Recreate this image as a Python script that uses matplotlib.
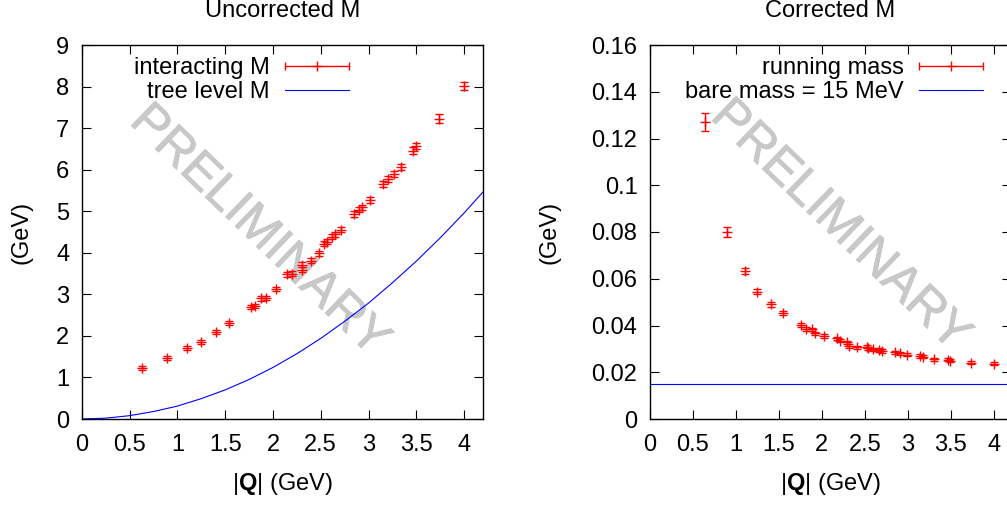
import matplotlib
matplotlib.use('Agg')
import matplotlib.pyplot as plt
import matplotlib.patheffects as pe
from matplotlib.container import ErrorbarContainer
from matplotlib.legend_handler import HandlerErrorbar
import numpy as np

plt.rcParams['font.family'] = ['Liberation Sans', 'DejaVu Sans']
plt.rcParams['mathtext.fontset'] = 'custom'
plt.rcParams['mathtext.rm'] = 'Liberation Sans'
plt.rcParams['mathtext.bf'] = 'Liberation Sans:bold'

# values
# left panel: uncorrected M (GeV) vs |Q| (GeV)
q_unc = [0.63, 0.89, 1.10, 1.25, 1.40, 1.54, 1.77, 1.81, 1.88, 1.93, 2.03,
         2.15, 2.20, 2.30, 2.30, 2.40, 2.48, 2.53, 2.57, 2.62, 2.65, 2.71,
         2.85, 2.90, 2.93, 3.01, 3.15, 3.20, 3.27, 3.34, 3.46, 3.50, 3.74, 4.00]
m_unc = [1.22, 1.46, 1.70, 1.86, 2.09, 2.32, 2.70, 2.71, 2.90, 2.91, 3.13,
         3.48, 3.50, 3.59, 3.71, 3.81, 3.99, 4.22, 4.27, 4.39, 4.45, 4.55,
         4.93, 5.04, 5.09, 5.27, 5.66, 5.77, 5.89, 6.07, 6.46, 6.57, 7.23, 8.01]
m_unc_err = [0.05, 0.05, 0.05, 0.05, 0.05, 0.05, 0.05, 0.05, 0.05, 0.05, 0.05,
             0.06, 0.06, 0.06, 0.06, 0.06, 0.06, 0.06, 0.06, 0.06, 0.06, 0.06,
             0.07, 0.07, 0.07, 0.07, 0.07, 0.07, 0.07, 0.07, 0.08, 0.08, 0.10, 0.09]

# tree level curve, read at a set of |Q| values
q_tree = [0.0, 0.25, 0.5, 0.75, 1.0, 1.25, 1.5, 1.75, 2.0, 2.25, 2.5,
          2.75, 3.0, 3.25, 3.5, 3.75, 4.0, 4.2]
m_tree = [0.0, 0.02, 0.08, 0.18, 0.31, 0.49, 0.70, 0.95, 1.24, 1.57, 1.94,
          2.35, 2.79, 3.28, 3.80, 4.36, 4.96, 5.47]

# right panel: corrected (running) mass
q_cor = [0.64, 0.90, 1.11, 1.25, 1.41, 1.55, 1.76, 1.81, 1.88, 1.92, 2.02,
         2.17, 2.21, 2.29, 2.31, 2.41, 2.52, 2.54, 2.60, 2.66, 2.70, 2.85,
         2.91, 2.99, 3.14, 3.18, 3.30, 3.47, 3.49, 3.73, 4.00]
m_cor = [0.1270, 0.0800, 0.0634, 0.0545, 0.0490, 0.0452, 0.0402, 0.0384,
         0.0384, 0.0366, 0.0355, 0.0345, 0.0335, 0.0328, 0.0312, 0.0307,
         0.0309, 0.0303, 0.0298, 0.0295, 0.0291, 0.0285, 0.0281, 0.0275,
         0.0270, 0.0267, 0.0256, 0.0253, 0.0250, 0.0241, 0.0236]
m_cor_err = [0.0039, 0.0023, 0.0013, 0.0011, 0.0009, 0.0008, 0.0008, 0.0008,
             0.0007, 0.0007, 0.0007, 0.0007, 0.0007, 0.0007, 0.0007, 0.0007,
             0.0007, 0.0007, 0.0007, 0.0007, 0.0007, 0.0007, 0.0007, 0.0007,
             0.0007, 0.0007, 0.0007, 0.0007, 0.0007, 0.0007, 0.0007]
bare_mass = 0.015

x_ticks = [0, 0.5, 1, 1.5, 2, 2.5, 3, 3.5, 4]
x_tick_labels = ['0', '0.5', '1', '1.5', '2', '2.5', '3', '3.5', '4']
left_y_ticks = [0, 1, 2, 3, 4, 5, 6, 7, 8, 9]
left_y_labels = ['0', '1', '2', '3', '4', '5', '6', '7', '8', '9']
right_y_ticks = [0, 0.02, 0.04, 0.06, 0.08, 0.10, 0.12, 0.14, 0.16]
right_y_labels = ['0', '0.02', '0.04', '0.06', '0.08', '0.1', '0.12', '0.14', '0.16']

FS = 17
W, H = 1007, 505

fig = plt.figure(figsize=(W / 100, H / 100), dpi=100)
ax1 = fig.add_axes([81.7 / W, 86 / H, 401.6 / W, 374 / H])
ax2 = fig.add_axes([650 / W, 86 / H, 361 / W, 374 / H])

err_style = dict(fmt='+', color='red', ms=6.5, mew=1, elinewidth=1,
                 capsize=3, capthick=1)


def style_axes(ax, yticks, ylabels, ymax):
    ax.set_xlim(0, 4.2)
    ax.set_ylim(0, ymax)
    ax.set_xticks(x_ticks)
    ax.set_xticklabels(x_tick_labels)
    ax.set_yticks(yticks)
    ax.set_yticklabels(ylabels)
    ax.tick_params(direction='in', length=6.5, width=0.8, top=True, right=True,
                   labelsize=FS, colors='black')
    ax.tick_params(axis='x', pad=11)
    ax.tick_params(axis='y', pad=9)
    for s in ax.spines.values():
        s.set_linewidth(1.0)


def add_legend(ax, labels, handles, anchor_x):
    leg = ax.legend(handles, labels, loc='upper right',
                    bbox_to_anchor=(anchor_x, 0.968), frameon=False,
                    markerfirst=False, fontsize=FS, handlelength=2.72,
                    handletextpad=0.64, labelspacing=0.1, borderpad=0,
                    borderaxespad=0,
                    handler_map={ErrorbarContainer: HandlerErrorbar(xerr_size=1.36)})
    return leg


# left panel
ax1.errorbar(q_unc, m_unc, yerr=m_unc_err, zorder=3, **err_style)
tree_line, = ax1.plot(q_tree, m_tree, color='blue', lw=0.8, zorder=2)
proxy1 = ax1.errorbar([np.nan], [np.nan], xerr=[0.1], **err_style)
style_axes(ax1, left_y_ticks, left_y_labels, 9)
add_legend(ax1, ['interacting M', 'tree level M'], [proxy1, tree_line], 0.666)

# right panel
ax2.errorbar(q_cor, m_cor, yerr=m_cor_err, zorder=3, **err_style)
bare_line = ax2.axhline(bare_mass, color='blue', lw=0.8, zorder=2)
proxy2 = ax2.errorbar([np.nan], [np.nan], xerr=[0.1], **err_style)
style_axes(ax2, right_y_ticks, right_y_labels, 0.16)
add_legend(ax2, ['running mass', 'bare mass = 15 MeV'], [proxy2, bare_line], 0.923)

# watermarks
for ax, cx, cy in [(ax1, 259, 231), (ax2, 840, 226)]:
    ax.text(cx / W, 1 - cy / H, 'PRELIMINARY', transform=fig.transFigure,
            rotation=-44, rotation_mode='anchor', ha='center', va='center',
            fontsize=36, color='#c8c8c8', zorder=0,
            path_effects=[pe.withStroke(linewidth=0.6, foreground='#c8c8c8')])

# titles and axis labels
fig.text(282.5 / W, 1 - 17 / H, 'Uncorrected M', ha='center', va='baseline', fontsize=FS)
fig.text(830 / W, 1 - 17 / H, 'Corrected M', ha='center', va='baseline', fontsize=FS)
fig.text(21 / W, 1 - 232 / H, '(GeV)', rotation=90, ha='center', va='center', fontsize=FS)
fig.text(549 / W, 1 - 232 / H, '(GeV)', rotation=90, ha='center', va='center', fontsize=FS)
xlab = r'|$\mathbf{Q}$| (GeV)'
fig.text(282.5 / W, 1 - 484 / H, xlab, ha='center', va='center', fontsize=FS)
fig.text(830 / W, 1 - 484 / H, xlab, ha='center', va='center', fontsize=FS)

fig.savefig('out.png', dpi=100)
